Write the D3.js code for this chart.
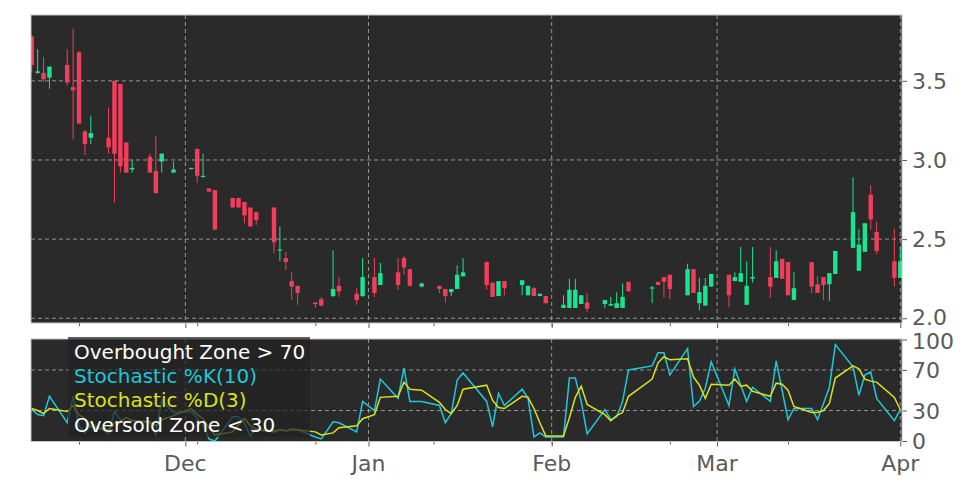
<!DOCTYPE html>
<html>
<head>
<meta charset="utf-8">
<script src="https://cdn.jsdelivr.net/npm/d3@7"></script>
<style>
  body { margin: 0; background: #fff; }
  svg { display: block; font-family: "DejaVu Sans", sans-serif; }
</style>
</head>
<body>
<svg id="chart" width="972" height="486"></svg>
<script>
// daily candles, Nov 2024 - Apr 2025
const dates = [
  '2024-11-05','2024-11-06','2024-11-07','2024-11-08','2024-11-11','2024-11-12','2024-11-13','2024-11-14','2024-11-15',
  '2024-11-18','2024-11-19','2024-11-20','2024-11-21','2024-11-22','2024-11-25','2024-11-26','2024-11-27','2024-11-29',
  '2024-12-02','2024-12-03','2024-12-04','2024-12-05','2024-12-06','2024-12-09','2024-12-10','2024-12-11','2024-12-12',
  '2024-12-13','2024-12-16','2024-12-17','2024-12-18','2024-12-19','2024-12-20','2024-12-23','2024-12-24','2024-12-26',
  '2024-12-27','2024-12-30','2024-12-31','2025-01-02','2025-01-03','2025-01-06','2025-01-07','2025-01-08','2025-01-10',
  '2025-01-13','2025-01-14','2025-01-15','2025-01-16','2025-01-17','2025-01-21','2025-01-22','2025-01-23','2025-01-24',
  '2025-01-27','2025-01-28','2025-01-29','2025-01-30','2025-01-31','2025-02-03','2025-02-04','2025-02-05','2025-02-06',
  '2025-02-07','2025-02-10','2025-02-11','2025-02-12','2025-02-13','2025-02-14','2025-02-18','2025-02-19','2025-02-20',
  '2025-02-21','2025-02-24','2025-02-25','2025-02-26','2025-02-27','2025-02-28','2025-03-03','2025-03-04','2025-03-05',
  '2025-03-06','2025-03-07','2025-03-10','2025-03-11','2025-03-12','2025-03-13','2025-03-14','2025-03-17','2025-03-18',
  '2025-03-19','2025-03-20','2025-03-21','2025-03-24','2025-03-25','2025-03-26','2025-03-27','2025-03-28','2025-03-31',
  '2025-04-01'
];
const open = [
  3.78,3.55,3.55,3.52,3.60,3.46,3.68,3.18,3.14, 3.14,3.50,3.48,3.11,2.94,3.02,2.93,2.99,2.92,
  2.945,3.07,2.895,2.82,2.81,2.76,2.76,2.735,2.70, 2.67,2.70,2.43,2.38,2.235,2.205,2.10,2.12,2.14,
  2.205,2.155,2.14,2.26,2.21,2.29,2.38,2.31,2.20, 2.205,2.185,2.165,2.185,2.265,2.355,2.225,2.14,2.235,
  2.21,2.145,2.19,2.14,2.14,2.065,2.065,2.065,2.09, 2.10,2.09,2.08,2.065,2.065,2.23,2.19,2.23,2.26,
  2.275,2.145,2.31,2.095,2.08,2.20,2.275,2.235,2.23, 2.085,2.25,2.26,2.255,2.375,2.355,2.115,2.355,2.215,
  2.26,2.215,2.28,2.445,2.30,2.42,2.78,2.545,2.36, 2.255
];
const high = [
  3.79,3.70,3.65,3.59,3.70,3.83,3.69,3.19,3.28, 3.33,3.50,3.48,3.11,3.00,3.04,3.15,3.04,2.99,
  2.95,3.07,3.04,2.82,2.81,2.76,2.76,2.735,2.70, 2.67,2.70,2.58,2.42,2.29,2.205,2.10,2.135,2.43,
  2.26,2.19,2.38,2.38,2.35,2.38,2.395,2.31,2.225, 2.205,2.185,2.185,2.335,2.38,2.36,2.225,2.235,2.235,
  2.24,2.205,2.20,2.155,2.14,2.145,2.25,2.25,2.145, 2.16,2.115,2.135,2.165,2.22,2.23,2.205,2.23,2.26,
  2.275,2.345,2.31,2.255,2.255,2.28,2.275,2.29,2.45, 2.36,2.45,2.45,2.43,2.375,2.355,2.29,2.355,2.265,
  2.26,2.285,2.425,2.89,2.565,2.60,2.84,2.61,2.565, 2.45
];
const low = [
  3.55,3.545,3.49,3.45,3.47,3.13,3.23,3.03,3.10, 3.04,2.73,2.92,2.92,2.92,2.92,2.79,2.92,2.92,
  2.94,2.855,2.89,2.80,2.56,2.70,2.70,2.60,2.58, 2.59,2.41,2.36,2.305,2.115,2.085,2.065,2.075,2.135,
  2.135,2.085,2.135,2.135,2.21,2.18,2.275,2.20,2.195, 2.16,2.10,2.14,2.185,2.265,2.18,2.135,2.14,2.145,
  2.145,2.145,2.14,2.14,2.095,2.065,2.065,2.065,2.09, 2.04,2.065,2.08,2.065,2.065,2.17,2.095,2.21,2.13,
  2.12,2.145,2.16,2.05,2.08,2.20,2.07,2.235,2.23, 2.085,2.225,2.13,2.255,2.25,2.145,2.115,2.16,2.16,
  2.115,2.11,2.28,2.445,2.30,2.42,2.56,2.405,2.20, 2.255
];
const close = [
  3.60,3.56,3.51,3.59,3.49,3.44,3.23,3.10,3.17, 3.08,3.04,2.96,2.92,2.95,2.92,2.79,3.04,2.94,
  2.95,2.90,2.90,2.80,2.56,2.70,2.70,2.65,2.58, 2.62,2.48,2.435,2.355,2.20,2.16,2.09,2.08,2.185,
  2.17,2.115,2.26,2.16,2.285,2.21,2.32,2.205,2.22, 2.185,2.14,2.185,2.275,2.29,2.21,2.135,2.235,2.19,
  2.24,2.205,2.14,2.155,2.095,2.085,2.18,2.18,2.145, 2.06,2.115,2.09,2.095,2.135,2.17,2.195,2.21,2.23,
  2.185,2.31,2.16,2.165,2.205,2.28,2.145,2.26,2.285, 2.205,2.26,2.20,2.36,2.25,2.145,2.19,2.20,2.16,
  2.21,2.285,2.425,2.67,2.465,2.60,2.625,2.425,2.255, 2.36
];
// stochastic oscillator values
const stochK = [
  31,26,25,44,18,44,15,8,18, 7,29,21,18,20,18,6,40,28,
  29,22,16,2,0,24,24,17,5, 12,10,11,10,12,11,4,2,19,
  18,9,39,30,61,42,72,39,39, 35,18,27,60,67,39,14,47,35,
  51,42,4,8,4,4,62,62,39, 7,31,21,24,39,70,74,87,87,
  65,91,34,39,52,78,35,71,55, 39,53,39,79,50,21,32,32,21,
  37,53,95,73,45,65,68,42,20, 31
];
const stochD = [
  32,30,27,32,29,35,26,22,14, 11,18,19,23,20,19,15,21,25,
  32,26,22,13,6,9,16,22,15, 11,9,11,10,11,11,9,6,8,
  13,15,22,26,43,44,58,51,50, 38,31,27,35,51,55,40,33,32,
  44,43,32,18,5,5,23,43,54, 36,26,20,25,28,44,61,77,83,
  80,81,63,55,42,56,55,61,54, 55,49,44,57,56,50,34,28,28,
  30,37,62,74,71,61,59,58,43, 31
];
const priceTicks = [2.0, 2.5, 3.0, 3.5];
const stochTicks = [0, 30, 70, 100];
const monthTicks = ['2024-12-01', '2025-01-01', '2025-02-01', '2025-03-01', '2025-04-01'];
const minorTicks = ['2024-11-13', '2024-12-03', '2024-12-23', '2025-01-12', '2025-02-01', '2025-02-21', '2025-03-13'];
const legendItems = [
  {label: 'Overbought Zone > 70', color: '#ffffff'},
  {label: 'Stochastic %K(10)', color: '#1ec8dc'},
  {label: 'Stochastic %D(3)', color: '#d8e21e'},
  {label: 'Oversold Zone < 30', color: '#ffffff'}
];

const parse = d3.timeParse('%Y-%m-%d');
const data = dates.map((d, i) => ({
  date: parse(d), o: open[i], h: high[i], l: low[i], c: close[i], k: stochK[i], d: stochD[i]
}));

const left = 31, right = 902;
const top1 = 15, bottom1 = 323;
const top2 = 339, bottom2 = 441.5;
const bg = '#2a2a2a', gridColor = '#a8a8a8', frameColor = '#c4c4c4', tickColor = '#5a5a5a';
const upColor = '#17e590', downColor = '#f23e5b';

const svg = d3.select('#chart');

const x = d3.scaleTime()
  .domain([new Date(2024, 10, 4, 21), new Date(2025, 3, 1, 7)])
  .range([left, right]);
const yPrice = d3.scaleLinear().domain([1.97, 3.916]).range([bottom1, top1]);
const yStoch = d3.scaleLinear().domain([0, 100]).range([441, 339.5]);

const defs = svg.append('defs');
defs.append('clipPath').attr('id', 'clip1')
  .append('rect').attr('x', left).attr('y', top1).attr('width', right - left).attr('height', bottom1 - top1);
defs.append('clipPath').attr('id', 'clip2')
  .append('rect').attr('x', left).attr('y', top2).attr('width', right - left).attr('height', bottom2 - top2);

function panel(top, bottom, yScale, yTicks, labelShift) {
  const g = svg.append('g');
  g.append('rect')
    .attr('x', left).attr('y', top)
    .attr('width', right - left).attr('height', bottom - top)
    .attr('fill', bg);
  // horizontal grid
  g.selectAll('.hgrid')
    .data(yTicks.filter(v => yScale(v) > top + 1 && yScale(v) < bottom - 1 || v === 2.0))
    .enter().append('line')
    .attr('x1', left).attr('x2', right)
    .attr('y1', d => yScale(d)).attr('y2', d => yScale(d))
    .attr('stroke', gridColor).attr('stroke-width', 1)
    .attr('stroke-dasharray', '4,3').attr('opacity', 0.85);
  // vertical grid at month starts
  g.selectAll('.vgrid')
    .data(monthTicks.map(parse))
    .enter().append('line')
    .attr('x1', d => x(d)).attr('x2', d => x(d))
    .attr('y1', top).attr('y2', bottom)
    .attr('stroke', gridColor).attr('stroke-width', 1)
    .attr('stroke-dasharray', '4,3').attr('opacity', 0.85);

  // right axis
  const ax = svg.append('g')
    .attr('transform', `translate(${right},0)`)
    .call(d3.axisRight(yScale).tickValues(yTicks).tickSize(5).tickPadding(5)
      .tickFormat(v => yTicks === priceTicks ? d3.format('.1f')(v) : v));
  ax.select('.domain').remove();
  ax.selectAll('line').attr('stroke', tickColor);
  ax.selectAll('text').attr('fill', tickColor).style('font-size', '22px')
    .style('font-family', '"DejaVu Sans", sans-serif')
    .attr('dy', (v, i) => labelShift(v));

  // bottom ticks (major + minor)
  const bx = svg.append('g')
    .attr('transform', `translate(0,${bottom})`)
    .call(d3.axisBottom(x).tickValues(monthTicks.map(parse)).tickSize(5).tickFormat(''));
  bx.select('.domain').remove();
  bx.selectAll('line').attr('stroke', tickColor);
  const mx = svg.append('g')
    .attr('transform', `translate(0,${bottom})`)
    .call(d3.axisBottom(x).tickValues(minorTicks.map(parse)).tickSize(3).tickFormat(''));
  mx.select('.domain').remove();
  mx.selectAll('line').attr('stroke', tickColor);
  return g;
}

// ---- price panel ----
panel(top1, bottom1, yPrice, priceTicks, v => v === 2.0 ? '0.28em' : '0.34em');
const candles = svg.append('g').attr('clip-path', 'url(#clip1)');
const bw = 4.4;
candles.selectAll('.wick')
  .data(data).enter().append('line')
  .attr('x1', d => x(d.date)).attr('x2', d => x(d.date))
  .attr('y1', d => yPrice(d.h)).attr('y2', d => yPrice(d.l))
  .attr('stroke', d => d.c >= d.o ? upColor : downColor)
  .attr('stroke-width', 1);
candles.selectAll('.body')
  .data(data).enter().append('rect')
  .attr('x', d => x(d.date) - bw / 2)
  .attr('width', bw)
  .attr('y', d => yPrice(Math.max(d.o, d.c)))
  .attr('height', d => Math.max(1.2, Math.abs(yPrice(d.o) - yPrice(d.c))))
  .attr('fill', d => d.c >= d.o ? upColor : downColor);
svg.append('rect')
  .attr('x', left).attr('y', top1).attr('width', right - left).attr('height', bottom1 - top1)
  .attr('fill', 'none').attr('stroke', frameColor).attr('stroke-width', 1);

// ---- stochastic panel ----
panel(top2, bottom2, yStoch, stochTicks, v => v === 100 ? '0.40em' : '0.34em');
const lines = svg.append('g').attr('clip-path', 'url(#clip2)');
lines.append('path')
  .datum(data)
  .attr('fill', 'none').attr('stroke', '#1ec8dc').attr('stroke-width', 1.5)
  .attr('d', d3.line().x(d => x(d.date)).y(d => yStoch(d.k)));
lines.append('path')
  .datum(data)
  .attr('fill', 'none').attr('stroke', '#d8e21e').attr('stroke-width', 1.5)
  .attr('d', d3.line().x(d => x(d.date)).y(d => yStoch(d.d)));
svg.append('rect')
  .attr('x', left).attr('y', top2).attr('width', right - left).attr('height', bottom2 - top2)
  .attr('fill', 'none').attr('stroke', frameColor).attr('stroke-width', 1);

// legend (semi transparent box, text only)
svg.append('rect')
  .attr('x', 68).attr('y', 337).attr('width', 242).attr('height', 100)
  .attr('fill', '#232323').attr('opacity', 0.72);
svg.selectAll('.legend')
  .data(legendItems).enter().append('text')
  .attr('x', 74)
  .attr('y', (d, i) => 359 + i * 24.2)
  .attr('fill', d => d.color)
  .style('font-size', '20px')
  .text(d => d.label);

// month labels
svg.selectAll('.month')
  .data(monthTicks.map(parse)).enter().append('text')
  .attr('x', d => x(d))
  .attr('y', 471)
  .attr('text-anchor', 'middle')
  .attr('fill', tickColor)
  .style('font-size', '22px')
  .text(d => d3.timeFormat('%b')(d));
</script>
</body>
</html>
